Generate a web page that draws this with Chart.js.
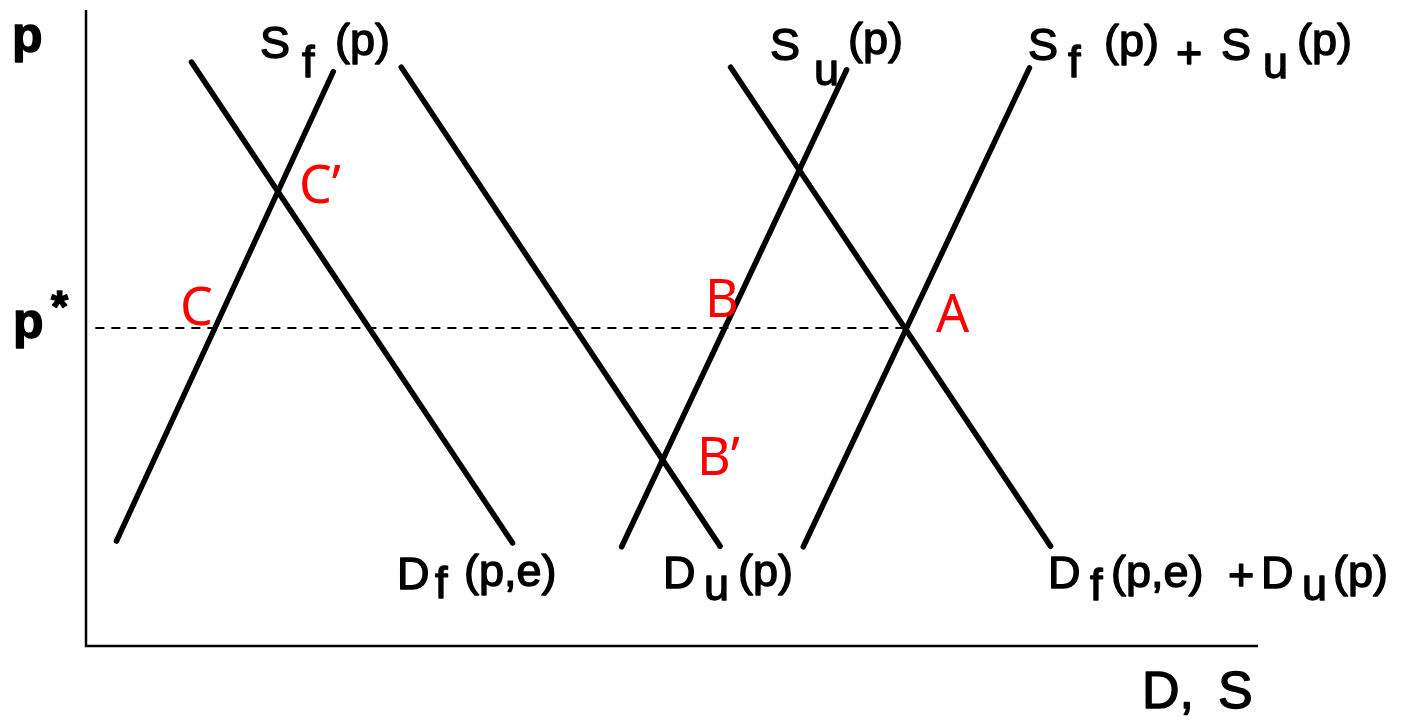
<!DOCTYPE html>
<html>
<head>
<meta charset="utf-8">
<script src="https://cdn.jsdelivr.net/npm/chart.js@4.4.1/dist/chart.umd.min.js"></script>
<style>
    html, body { margin: 0; padding: 0; background: #fff; }
    #wrap { width: 1404px; height: 720px; }
</style>
</head>
<body>
<div id="wrap"><canvas id="chart"></canvas></div>
<script>
// quantity (D, S) on x, price p on y, both 0..100
const supplyF = [{ x: 2.6, y: 16.5 }, { x: 21.1, y: 90.3 }];
const demandF = [{ x: 9.0, y: 91.8 }, { x: 36.4, y: 16.2 }];
const demandU = [{ x: 26.9, y: 91.0 }, { x: 54.1, y: 15.7 }];
const supplyU = [{ x: 45.7, y: 15.6 }, { x: 64.9, y: 90.6 }];
const demandTotal = [{ x: 55.0, y: 91.0 }, { x: 82.3, y: 15.7 }];
const supplyTotal = [{ x: 61.2, y: 15.6 }, { x: 80.5, y: 90.9 }];
const pStar = 50;
const pStarLine = [{ x: 0.8, y: pStar }, { x: 69.9, y: pStar }];

// text labels: anchor in data units, pieces offset in px
const blackFont = "45px 'Liberation Sans', Arial, sans-serif";
const curveLabels = [
    { at: [14.85, 92.45], parts: [["S", 0, 0], ["f", 42, 19], ["(p)", 75, -3]] },
    { at: [58.36, 92.14], parts: [["S", 0, 0], ["u", 44, 25], ["(p)", 78, -6]] },
    { at: [80.38, 92.14], parts: [["S", 0, 0], ["f", 40, 17], ["(p)", 76, -4], ["+", 148, 8], ["S", 193, 0], ["u", 235, 18], ["(p)", 269, -5]] },
    { at: [26.54, 8.96], parts: [["D", 0, 0], ["f", 38, 9], ["(p,e)", 67, -3]] },
    { at: [49.23, 9.12], parts: [["D", 0, 0], ["u", 41, 12], ["(p)", 75, -2]] },
    { at: [82.08, 9.12], parts: [["D", 0, 0], ["f", 42, 12], ["(p,e)", 63, -1], ["+", 180, 2], ["D", 213, 0], ["u", 254, 12], ["(p)", 285, -1]] }
];
const axisLabels = [
    { at: [-6.31, 93.7], parts: [["p", 0, 2]], font: "bold 50px 'Liberation Sans', Arial, sans-serif" },
    { at: [-6.23, 48.74], parts: [["p", 0, 2]], font: "bold 50px 'Liberation Sans', Arial, sans-serif" },
    { at: [-6.23, 48.74], parts: [["*", 38, -14]], font: "bold 44px 'Liberation Sans', Arial, sans-serif" },
    { at: [90.1, -9.75], parts: [["D,", 0, 0], ["S", 76, 0]], font: "52px 'Liberation Sans', Arial, sans-serif" }
];
const pointLabels = [
    ["C", 8.02, 50.47],
    ["C\u2019", 18.17, 69.65],
    ["B", 52.82, 51.73],
    ["A", 72.53, 49.37],
    ["B\u2019", 52.13, 26.89]
];

function curve(data) {
    return {
        data: data,
        borderColor: "#000",
        borderWidth: 5.5,
        borderCapStyle: "round",
        pointRadius: 0,
        fill: false
    };
}

const drawLabels = {
    id: "drawLabels",
    afterDraw(chart) {
        const ctx = chart.ctx;
        const sx = chart.scales.x, sy = chart.scales.y;
        const area = chart.chartArea;
        ctx.save();

        // axes
        ctx.strokeStyle = "#000";
        ctx.lineWidth = 2.5;
        ctx.beginPath();
        ctx.moveTo(area.left, area.top);
        ctx.lineTo(area.left, area.bottom);
        ctx.lineTo(area.right, area.bottom);
        ctx.stroke();

        ctx.textAlign = "left";
        ctx.textBaseline = "alphabetic";
        ctx.fillStyle = "#000";
        ctx.lineWidth = 1.4;
        ctx.lineJoin = "round";
        const put = (lab, font) => {
            const x0 = sx.getPixelForValue(lab.at[0]);
            const y0 = sy.getPixelForValue(lab.at[1]);
            ctx.font = lab.font || font;
            lab.parts.forEach(p => {
                ctx.fillText(p[0], x0 + p[1], y0 + p[2]);
                ctx.strokeText(p[0], x0 + p[1], y0 + p[2]);
            });
        };
        curveLabels.forEach(l => put(l, blackFont));
        axisLabels.forEach(l => put(l));

        ctx.fillStyle = "#ff0000";
        ctx.font = "52px 'Noto Sans', 'Open Sans', sans-serif";
        pointLabels.forEach(p => {
            ctx.fillText(p[0], sx.getPixelForValue(p[1]), sy.getPixelForValue(p[2]));
        });
        ctx.restore();
    }
};

new Chart(document.getElementById("chart"), {
    type: "line",
    data: {
        datasets: [
            curve(supplyF),
            curve(demandF),
            curve(demandU),
            curve(supplyU),
            curve(demandTotal),
            curve(supplyTotal),
            {
                data: pStarLine,
                borderColor: "#000",
                borderWidth: 2,
                borderDash: [9, 7],
                pointRadius: 0,
                fill: false
            }
        ]
    },
    options: {
        responsive: true,
        maintainAspectRatio: false,
        animation: false,
        layout: { padding: { left: 86, right: 146, top: 10, bottom: 74 } },
        scales: {
            x: { type: "linear", min: 0, max: 100, display: false },
            y: { type: "linear", min: 0, max: 100, display: false }
        },
        plugins: {
            legend: { display: false },
            tooltip: { enabled: false }
        }
    },
    plugins: [drawLabels]
});
</script>
</body>
</html>
